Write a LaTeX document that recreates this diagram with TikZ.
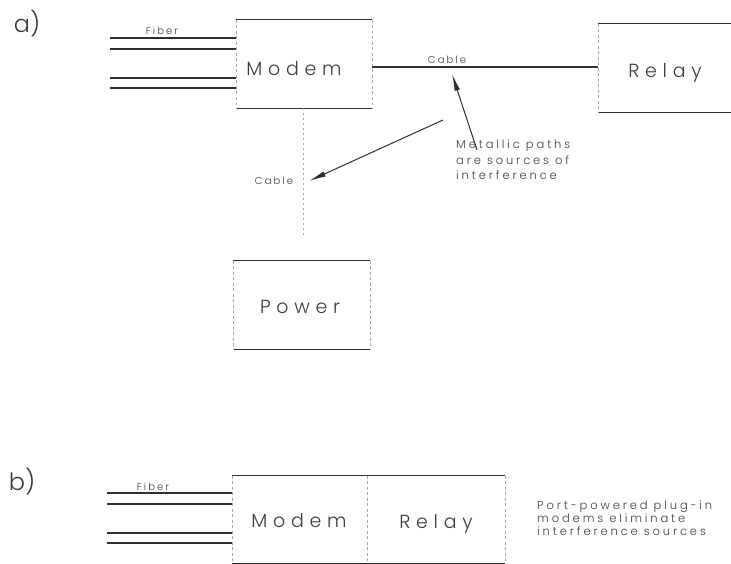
\documentclass[tikz,border=0pt]{standalone}
\usepackage{fontspec}
\setmainfont{Poppins}[UprightFont={* Light}]
\usetikzlibrary{arrows.meta}
\definecolor{ink}{HTML}{2E2E2E}
\definecolor{txt}{HTML}{3C3C3C}
\definecolor{faint}{HTML}{A8A8A8}
\newcommand\bigfnt{\fontsize{19}{21}\selectfont\addfontfeature{LetterSpace=30}}
\newcommand\smallfnt{\fontsize{11.5}{15.5}\selectfont\addfontfeature{LetterSpace=25}}
\newcommand\notefnt{\fontsize{11.5}{12.6}\selectfont\addfontfeature{LetterSpace=25}}
\newcommand\tagfnt{\fontsize{10}{11}\selectfont\addfontfeature{LetterSpace=21}}
\newcommand\partfnt{\fontsize{24}{26}\selectfont}
\begin{document}
\begin{tikzpicture}[x=1pt,y=-1pt,
  box/.style={inner sep=0pt, minimum width=#1},
  solidedge/.style={draw=ink, line width=1.3pt},
  sideedge/.style={draw=faint, line width=0.6pt, dash pattern=on 3pt off 2.5pt},
  fiberline/.style={draw=ink, line width=1.1pt},
  cableline/.style={draw=ink, line width=1.1pt},
  faintcable/.style={draw=faint, line width=0.7pt, dash pattern=on 2pt off 3pt},
  unitlabel/.style={inner sep=0pt, text=txt, font=\bigfnt},
  taglabel/.style={inner sep=0pt, text=txt, font=\tagfnt},
  note/.style={inner sep=0pt, text=txt, align=left},
  partlabel/.style={inner sep=0pt, text=txt, font=\partfnt},
  pointer/.style={draw=ink, line width=1pt, -{Latex[length=17pt,width=5.5pt]}}]
\useasboundingbox (0,0) rectangle (731,564);

% ---------- part a ----------
\node[partlabel] (pa) at (27,24) {a)};

\node[box=136pt, minimum height=88pt] (modem) at (304,64) {};
\node[box=133pt, minimum height=88pt] (relay) at (664.5,68) {};
\node[box=137pt, minimum height=88pt] (power) at (301.5,305) {};

\draw[solidedge] (modem.north west) -- (modem.north east);
\draw[solidedge] (modem.south west) -- (modem.south east);
\draw[sideedge] (modem.north west) -- (modem.south west);
\draw[sideedge] (modem.north east) -- (modem.south east);

\draw[solidedge] (relay.north west) -- (relay.north east);
\draw[solidedge] (relay.south west) -- (relay.south east);
\draw[sideedge] (relay.north west) -- (relay.south west);

\draw[solidedge] (power.north west) -- (power.north east);
\draw[solidedge] (power.south west) -- (power.south east);
\draw[sideedge] (power.north west) -- (power.south west);
\draw[sideedge] (power.north east) -- (power.south east);

\node[unitlabel] (modemtxt) at (294,69) {Modem};
\node[unitlabel] (relaytxt) at (665,73) {Relay};
\node[unitlabel] (powertxt) at (300,307) {Power};

% fibers a
\coordinate (fa1) at (110,38);
\coordinate (fa2) at (110,49);
\coordinate (fa3) at (110,78);
\coordinate (fa4) at (110,88);
\foreach \i in {1,...,4} \draw[fiberline] (fa\i) -- (fa\i -| modem.west);
\node[taglabel] (fibera) at (162,31) {Fiber};

% cables a
\draw[cableline] (modem.east |- 0,67) -- (relay.west |- 0,67);
\node[taglabel] (cabletop) at (447,60) {Cable};
\coordinate (vcend) at (303,236);
\draw[faintcable] (modem.south -| vcend) -- (vcend);
\node[taglabel] (cableside) at (274,181) {Cable};

% note a
\node[note, font=\smallfnt, anchor=north west] (metal) at (456,140)
  {Metallic paths\\are sources of\\interference};
\coordinate (tipa) at (452,74);
\coordinate (tipb) at (309,181);
\draw[pointer] ([xshift=21pt,yshift=-10pt]metal.north west) -- (tipa);
\draw[pointer] ([xshift=-13pt,yshift=20pt]metal.north west) -- (tipb);

% ---------- part b ----------
\node[partlabel] (pb) at (22,482) {b)};

\node[box=135pt, minimum height=87pt] (modemb) at (299.5,519.5) {};
\node[box=138pt, minimum height=87pt] (relayb) at (436,519.5) {};

\draw[solidedge] (modemb.north west) -- (relayb.north east);
\draw[solidedge] (modemb.south west) -- (relayb.south east);
\draw[sideedge] (modemb.north west) -- (modemb.south west);
\draw[sideedge] (modemb.north east) -- (modemb.south east);
\draw[sideedge] (relayb.north east) -- (relayb.south east);

\node[unitlabel] (modembtxt) at (299,521) {Modem};
\node[unitlabel] (relaybtxt) at (436,524) {Relay};

\coordinate (fb1) at (107,493);
\coordinate (fb2) at (107,504);
\coordinate (fb3) at (107,533);
\coordinate (fb4) at (107,543);
\foreach \i in {1,...,4} \draw[fiberline] (fb\i) -- (fb\i -| modemb.west);
\node[taglabel] (fiberb) at (153,487) {Fiber};

\node[note, font=\notefnt, anchor=north west] (portnote) at (537,501)
  {Port-powered plug-in\\modems eliminate\\interference sources};
\end{tikzpicture}
\end{document}
